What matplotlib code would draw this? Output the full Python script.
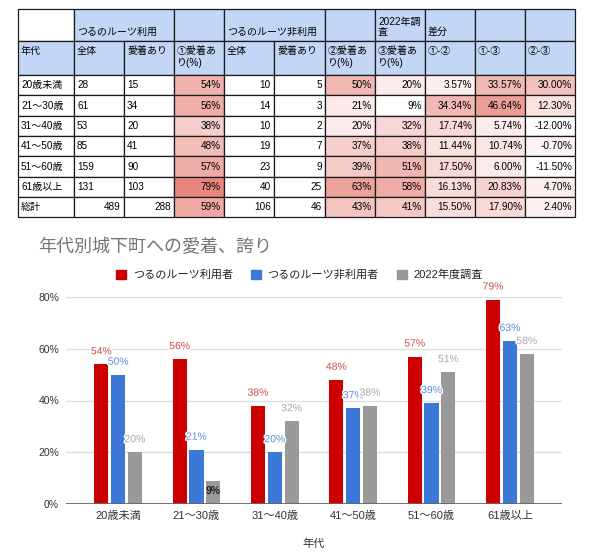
import numpy as np
import matplotlib
matplotlib.use('Agg')
import matplotlib.pyplot as plt
from matplotlib.patches import Rectangle, Patch
import matplotlib.patheffects as pe

plt.rcParams['font.family'] = ['Liberation Sans', 'Noto Sans CJK JP']

# ---- data ----
ages = ['20歳未満', '21～30歳', '31～40歳', '41～50歳', '51～60歳', '61歳以上']
users_total = [28, 61, 53, 85, 159, 131]
users_attached = [15, 34, 20, 41, 90, 103]
users_pct = [54, 56, 38, 48, 57, 79]
non_total = [10, 14, 10, 19, 23, 40]
non_attached = [5, 3, 2, 7, 9, 25]
non_pct = [50, 21, 20, 37, 39, 63]
survey_pct = [20, 9, 32, 38, 51, 58]

sum_label = '総計'
sum_row = [489, 288, 59, 106, 46, 43, 41]

diff12 = [3.57, 34.34, 17.74, 11.44, 17.50, 16.13, 15.50]
diff13 = [33.57, 46.64, 5.74, 10.74, 6.00, 20.83, 17.90]
diff23 = [30.00, 12.30, -12.00, -0.70, -11.50, 4.70, 2.40]

head1 = ['', 'つるのルーツ利用', '', '', 'つるのルーツ非利用', '', '', '2022年調\n査', '差分', '', '']
head2 = ['年代', '全体', '愛着あり', '①愛着あ\nり(%)', '全体', '愛着あり',
         '②愛着あ\nり(%)', '③愛着あ\nり(%)', '①-②', '①-③', '②-③']

series_names = ['つるのルーツ利用者', 'つるのルーツ非利用者', '2022年度調査']
title = '年代別城下町への愛着、誇り'
xlabel = '年代'

# ---- layout ----
W, H = 602, 559
fig = plt.figure(figsize=(W / 100, H / 100), dpi=100)

col_edges = [18, 74, 124, 174, 224, 274, 325, 375, 425, 475, 525, 575]
row_edges = [9, 41, 75] + list(np.linspace(75, 217.5, 8)[1:])
head_blue = '#c3d6f6'
line_c = '#1a1a1a'
scale_top = np.array([230, 124, 115]) / 255.0


def heat(v, lo, hi, strength=1.0, gamma=1.0):
    f = (v - lo) / (hi - lo)
    f = min(max(f, 0), 1) ** gamma * strength
    return tuple(1 - f * (1 - scale_top))


tax = fig.add_axes([0, 0, 1, 1])
tax.set_xlim(0, W)
tax.set_ylim(H, 0)
tax.axis('off')

fs_tab = 7.2

# header row 1 with the two merged group cells
spans = [(0, 1), (1, 3), (3, 4), (4, 6), (6, 7), (7, 8), (8, 9), (9, 10), (10, 11)]
y0, y1 = row_edges[0], row_edges[1]
for a, b in spans:
    fc = 'white' if a == 0 else head_blue
    tax.add_patch(Rectangle((col_edges[a], y0), col_edges[b] - col_edges[a], y1 - y0,
                            fc=fc, ec=line_c, lw=0.9))
    if head1[a]:
        tax.text(col_edges[a] + 3, y1 - 4, head1[a], fontsize=fs_tab, ha='left',
                 va='bottom', linespacing=1.0)

# header row 2
y0, y1 = row_edges[1], row_edges[2]
for j, t in enumerate(head2):
    tax.add_patch(Rectangle((col_edges[j], y0), col_edges[j + 1] - col_edges[j], y1 - y0,
                            fc=head_blue, ec=line_c, lw=0.9))
    tax.text(col_edges[j] + 3, y0 + 5, t, fontsize=fs_tab, ha='left', va='top',
             linespacing=1.25)

# body rows
pct_all = users_pct + non_pct + survey_pct + sum_row[2:3] + sum_row[5:7]
plo, phi = min(pct_all), max(pct_all)
diff_all = diff12 + diff13 + diff23
dlo, dhi = min(diff_all), max(diff_all)

rows = []
for i in range(len(ages)):
    rows.append([ages[i], users_total[i], users_attached[i], users_pct[i], non_total[i],
                 non_attached[i], non_pct[i], survey_pct[i], diff12[i], diff13[i], diff23[i]])
rows.append([sum_label] + sum_row + [diff12[-1], diff13[-1], diff23[-1]])

for i, r in enumerate(rows):
    y0, y1 = row_edges[2 + i], row_edges[3 + i]
    is_sum = (i == len(rows) - 1)
    for j, v in enumerate(r):
        fc = 'white'
        if j in (3, 6, 7):
            fc = heat(v, plo, phi, 0.92)
            txt = '%d%%' % v
        elif j >= 8:
            fc = heat(v, dlo, dhi, 0.75, 1.4)
            txt = '%.2f%%' % v
        else:
            txt = str(v)
        tax.add_patch(Rectangle((col_edges[j], y0), col_edges[j + 1] - col_edges[j], y1 - y0,
                                fc=fc, ec=line_c, lw=0.9))
        left = j == 0 or (j in (1, 2) and not is_sum)
        if left:
            tax.text(col_edges[j] + 3, (y0 + y1) / 2, txt, fontsize=fs_tab, ha='left', va='center')
        else:
            tax.text(col_edges[j + 1] - 3, (y0 + y1) / 2, txt, fontsize=fs_tab, ha='right', va='center')

# ---- bar chart ----
ax = fig.add_axes([66 / W, 1 - 504 / H, (562 - 66) / W, (504 - 297) / H])
colors = ['#cc0000', '#3c78d8', '#999999']
label_colors = ['#cc4c4c', '#5b8ee0', '#a8a8a8']
series = [users_pct, non_pct, survey_pct]
x = np.arange(len(ages))
step = 0.215
halo = [pe.withStroke(linewidth=2.2, foreground='white')]

for k, vals in enumerate(series):
    v = np.array(vals) / 100.0
    xs = x + (k - 1) * step
    ax.bar(xs, v, width=0.18, color=colors[k], zorder=3)
    for xi, vi in zip(xs, v):
        if vi < 0.1:
            ax.annotate('%d%%' % round(vi * 100), (xi, vi), xytext=(0, -5),
                        textcoords='offset pixels', ha='center', va='top',
                        fontsize=7.5, color='#222222', fontweight='bold', zorder=5)
        else:
            ax.annotate('%d%%' % round(vi * 100), (xi, vi), xytext=(0, 8),
                        textcoords='offset pixels', ha='center', va='bottom',
                        fontsize=7.5, color=label_colors[k], path_effects=halo,
                        zorder=5, annotation_clip=False)

ax.set_xlim(-0.665, len(ages) - 1 + 0.665)
ax.set_ylim(0, 0.8)
ax.set_yticks([0, 0.2, 0.4, 0.6, 0.8])
ax.set_yticklabels(['0%', '20%', '40%', '60%', '80%'])
ax.set_xticks(x)
ax.set_xticklabels(ages)
ax.tick_params(axis='both', length=0, labelsize=8, colors='#333333')
ax.tick_params(axis='x', pad=5)
ax.tick_params(axis='y', pad=5, labelsize=7.5)
for s in ax.spines.values():
    s.set_visible(False)
ax.grid(axis='y', color='#dedede', lw=1)
ax.set_axisbelow(True)
ax.axhline(0, color='#666666', lw=1.3, zorder=4)
ax.set_xlabel(xlabel, fontsize=8, color='#333333', labelpad=13)

fig.text(38 / W, 1 - 247 / H, title, fontsize=13, color='#757575', ha='left', va='center')

handles = [Patch(color=c) for c in colors]
leg = ax.legend(handles, series_names, ncol=3, loc='center',
                bbox_to_anchor=(0.4975, 1 - 275 / H), bbox_transform=fig.transFigure,
                frameon=False, fontsize=8, handlelength=0.9, handleheight=0.9,
                handletextpad=0.6, columnspacing=1.6, borderpad=0, borderaxespad=0)
for t in leg.get_texts():
    t.set_color('#222222')

fig.savefig('out.png', dpi=100)
